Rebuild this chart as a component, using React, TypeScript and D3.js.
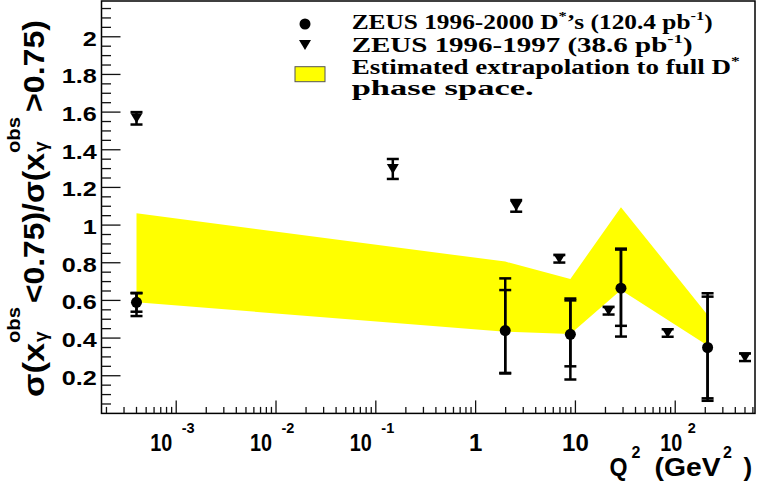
import * as d3 from 'd3';

// ZEUS D* measurements: ratio of low / high x_gamma^obs cross sections vs Q^2
const circleQ2 = [4e-4, 1.98, 8.9, 28.6, 211];
const circleRatio = [0.59, 0.44, 0.42, 0.665, 0.35];
const circleStatLow = [0.05, 0.225, 0.17, 0.2, 0.27];
const circleStatHigh = [0.048, 0.215, 0.18, 0.205, 0.27];
const circleTotLow = [0.073, 0.228, 0.24, 0.257, 0.283];
const circleTotHigh = [0.05, 0.277, 0.19, 0.21, 0.288];

// extrapolation band, given at the 1996-2000 points
const bandLower = [0.59, 0.434, 0.422, 0.655, 0.36];
const bandUpper = [1.063, 0.806, 0.714, 1.095, 0.523];

// ZEUS 1996-1997
const triangleQ2 = [4e-4, 0.148, 2.55, 6.9, 21.5, 84, 500];
const triangleRatio = [1.567, 1.298, 1.102, 0.821, 0.545, 0.427, 0.298];
const triangleErr = [0.033, 0.053, 0.031, 0.02, 0.02, 0.02, 0.02];

const yTickLabels = ['0.2', '0.4', '0.6', '0.8', '1', '1.2', '1.4', '1.6', '1.8', '2'];
const xTickLabels = [
  { v: 1e-3, base: '10', exp: '-3' },
  { v: 1e-2, base: '10', exp: '-2' },
  { v: 1e-1, base: '10', exp: '-1' },
  { v: 1, base: '1', exp: '' },
  { v: 10, base: '10', exp: '' },
  { v: 100, base: '10', exp: '2' },
];

const W = 758;
const H = 490;
const left = 101.5;
const right = 755;
const top = 1;
const bottom = 413.4;

const sans = '"Liberation Sans", Arial, Helvetica, sans-serif';
const serif = '"Liberation Serif", "Times New Roman", serif';

export default function App() {
  const x = d3.scaleLog().domain([1.784e-4, 630]).range([left, right]);
  const y = d3.scaleLinear().domain([0, 2.19]).range([bottom, top]);

  // minor / major log ticks
  const xTicks: { v: number; major: boolean }[] = [];
  for (let e = -4; e <= 2; e++) {
    for (let k = 1; k <= 9; k++) {
      const v = k * Math.pow(10, e);
      const [d0, d1] = x.domain();
      if (v > d0 && v < d1) xTicks.push({ v, major: k === 1 });
    }
  }
  const yTicks = d3.range(1, 44).map(i => ({ v: i * 0.05, major: i % 4 === 0 }));

  const band = d3.area<number>()
    .x(i => x(circleQ2[i]))
    .y0(i => y(bandLower[i]))
    .y1(i => y(bandUpper[i]));

  const tri = (cx: number, cy: number) =>
    `M${cx - 6},${cy - 5}L${cx + 6},${cy - 5}L${cx},${cy + 5}Z`;

  const errBar = (cx: number, lo: number, hi: number, key: string) => (
    <g key={key}>
      <line x1={cx} x2={cx} y1={y(lo)} y2={y(hi)} stroke="#000" strokeWidth={2.5} />
      <line x1={cx - 6} x2={cx + 6} y1={y(lo)} y2={y(lo)} stroke="#000" strokeWidth={2.5} />
      <line x1={cx - 6} x2={cx + 6} y1={y(hi)} y2={y(hi)} stroke="#000" strokeWidth={2.5} />
    </g>
  );

  const fit = { lengthAdjust: 'spacingAndGlyphs' as const };

  return (
    <div style={{ position: 'absolute', left: 0, top: 0 }}>
      <svg width={W} height={H} viewBox={`0 0 ${W} ${H}`} style={{ display: 'block', background: '#fff' }}>
        <rect x={0} y={0} width={W} height={H} fill="#fff" />

        {/* band */}
        <path d={band(d3.range(circleQ2.length)) || ''} fill="#ffff00" />

        {/* triangles */}
        {triangleQ2.map((q, i) => {
          const cx = x(q);
          return (
            <g key={'t' + i}>
              {errBar(cx, triangleRatio[i] - triangleErr[i], triangleRatio[i] + triangleErr[i], 'te' + i)}
              <path d={tri(cx, y(triangleRatio[i]))} fill="#000" />
            </g>
          );
        })}

        {/* circles */}
        {circleQ2.map((q, i) => {
          const cx = x(q);
          const v = circleRatio[i];
          return (
            <g key={'c' + i}>
              {errBar(cx, v - circleTotLow[i], v + circleTotHigh[i], 'ct' + i)}
              {errBar(cx, v - circleStatLow[i], v + circleStatHigh[i], 'cs' + i)}
              <circle cx={cx} cy={y(v)} r={5.5} fill="#000" />
            </g>
          );
        })}

        {/* frame */}
        <rect x={left} y={top} width={right - left} height={bottom - top} fill="none" stroke="#000" strokeWidth={1.5} />

        {/* x ticks */}
        {xTicks.map((t, i) => (
          <line key={'xt' + i} x1={x(t.v)} x2={x(t.v)} y1={bottom} y2={bottom - (t.major ? 13 : 6.5)}
            stroke="#111" strokeWidth={1.3} />
        ))}
        {/* y ticks */}
        {yTicks.map((t, i) => (
          <line key={'yt' + i} x1={left} x2={left + (t.major ? 19 : 9.5)} y1={y(t.v)} y2={y(t.v)}
            stroke="#111" strokeWidth={1.3} />
        ))}

        {/* y tick labels */}
        <g fontFamily={sans} fontWeight="bold" fontSize={21} fill="#000">
          {yTickLabels.map((l, i) => (
            <text key={'yl' + i} transform={`translate(96.7,${y(+l) + 8.8}) scale(1.2,1)`} textAnchor="end">{l}</text>
          ))}
        </g>

        {/* x tick labels */}
        <g fontFamily={sans} fontWeight="bold" fill="#000">
          {xTickLabels.map((t, i) => {
            const cx = x(t.v);
            if (!t.exp) {
              return <text key={'xl' + i} x={cx} y={451} fontSize={24} textAnchor="middle">{t.base}</text>;
            }
            const neg = t.exp.startsWith('-');
            return (
              <g key={'xl' + i}>
                <text x={cx + (neg ? -26 : -15)} y={451} fontSize={24} textLength={22} {...fit}>{t.base}</text>
                <text x={cx + (neg ? 5.5 : 12.5)} y={432.5} fontSize={14.5}>{t.exp}</text>
              </g>
            );
          })}
        </g>

        {/* x title */}
        <g fontFamily={sans} fontWeight="bold" fill="#000" fontSize={26}>
          <text x={609.5} y={475.5} textLength={18} {...fit}>Q</text>
          <text x={631.5} y={458} fontSize={16}>2</text>
          <text x={654.5} y={475.5} textLength={66} {...fit}>(GeV</text>
          <text x={723} y={458} fontSize={16}>2</text>
          <text x={743.5} y={475.5}>)</text>
        </g>

        {/* y title */}
        <g transform="translate(44.3,397) rotate(-90)" fontFamily={sans} fontWeight="bold" fill="#000">
          <text x={0} y={0} fontSize={29} textLength={54} {...fit}>σ(x</text>
          <text x={94} y={0} fontSize={29} textLength={150} {...fit}>{'<0.75)/σ(x'}</text>
          <text x={285} y={0} fontSize={29} textLength={92} {...fit}>{'>0.75)'}</text>
          <text x={54} y={-24.3} fontSize={19} textLength={36} {...fit}>obs</text>
          <text x={55} y={3} fontSize={19}>γ</text>
          <text x={244} y={-24.3} fontSize={19} textLength={36} {...fit}>obs</text>
          <text x={245} y={3} fontSize={19}>γ</text>
        </g>

        {/* legend */}
        <circle cx={305} cy={24} r={5.5} fill="#000" />
        <path d={tri(305, 45)} fill="#000" />
        <rect x={295} y={66.7} width={30} height={15} fill="#ffff00" stroke="#555" strokeWidth={1} />
        <g fontFamily={serif} fontWeight="bold" fill="#000" fontSize={20}>
          <text x={351.7} y={29.3} textLength={361} {...fit}>
            ZEUS 1996-2000 D<tspan dy={-9} fontSize={13}>*</tspan>
            <tspan dy={9}>’s (120.4 pb</tspan>
            <tspan dy={-9} fontSize={13}>-1</tspan>
            <tspan dy={9}>)</tspan>
          </text>
          <text x={351.7} y={51.7} textLength={341} {...fit}>
            ZEUS 1996-1997 (38.6 pb<tspan dy={-9} fontSize={13}>-1</tspan>
            <tspan dy={9}>)</tspan>
          </text>
          <text x={351.7} y={74} textLength={388} {...fit}>
            Estimated extrapolation to full D<tspan dy={-9} fontSize={13}>*</tspan>
          </text>
          <text x={351.7} y={95} textLength={182} {...fit}>phase space.</text>
        </g>
      </svg>
    </div>
  );
}
